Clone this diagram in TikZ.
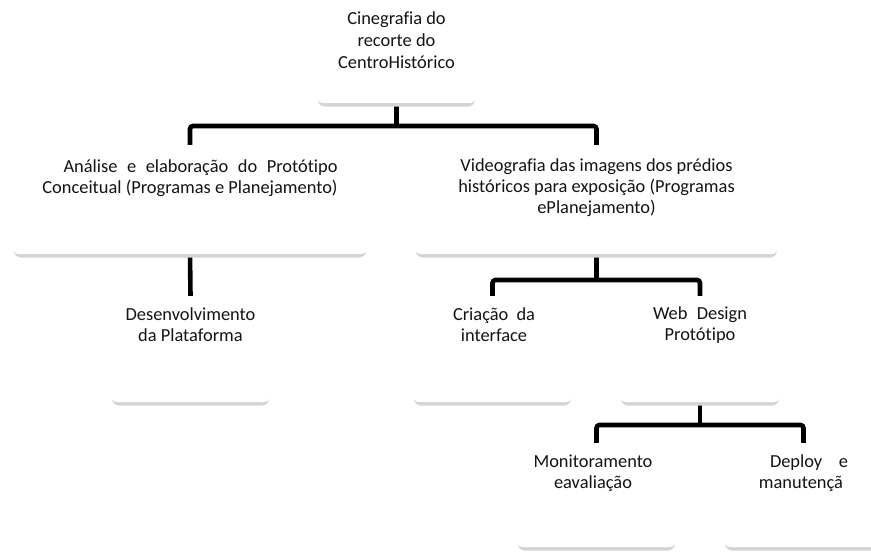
\documentclass[tikz,border=0pt]{standalone}
\usepackage{fontspec}
\setmainfont{Carlito}[RawFeature={-liga;-clig}]
\begin{document}
\begin{tikzpicture}[x=1pt,y=-1pt,
  box/.style={rectangle, rounded corners=6pt, fill=white, draw=none, inner sep=0pt},
  shadowbox/.style={rectangle, rounded corners=7pt, fill=black!17, draw=none, inner sep=0pt},
  conn/.style={line width=4.6pt, black},
  lbl/.style={font=\fontsize{18.4}{21}\selectfont, text=black!92, align=center, inner sep=0pt}]
\clip (0,0) rectangle (871,552);
\fill[white] (0,0) rectangle (871,552);
% connector joints
\coordinate (j1) at (396.5,126);
\coordinate (j2) at (596.5,280);
\coordinate (j3) at (700,425);
% box frames (positions)
\path (396.5,49) node[minimum width=159pt, minimum height=108pt, inner sep=0pt] (top) {};
\path (190,199.5) node[minimum width=354pt, minimum height=109pt, inner sep=0pt] (a) {};
\path (596.5,199.5) node[minimum width=363pt, minimum height=109pt, inner sep=0pt] (b) {};
\path (190.5,349) node[minimum width=159pt, minimum height=106pt, inner sep=0pt] (c) {};
\path (492.5,349) node[minimum width=159pt, minimum height=106pt, inner sep=0pt] (d) {};
\path (700,349) node[minimum width=160pt, minimum height=106pt, inner sep=0pt] (e) {};
\path (596.5,495) node[minimum width=159pt, minimum height=104pt, inner sep=0pt] (f) {};
\path (803.5,495) node[minimum width=159pt, minimum height=104pt, inner sep=0pt] (g) {};
% connectors
\draw[conn] (top.south) -- (j1);
\draw[conn, rounded corners=3pt] (a.north) |- (j1) -| (b.north);
\draw[conn] (a.south) -- (c.north);
\draw[conn] (b.south) -- (j2);
\draw[conn, rounded corners=3pt] (d.north) |- (j2) -| (e.north);
\draw[conn] (e.south) -- (j3);
\draw[conn, rounded corners=3pt] (f.north) |- (j3) -| (g.north);
% shadows
\node[shadowbox, minimum width=157pt, minimum height=108pt] (topsh) at ([yshift=-3.5pt]top) {};
\node[shadowbox, minimum width=352pt, minimum height=109pt] (ash) at ([yshift=-3.5pt]a) {};
\node[shadowbox, minimum width=361pt, minimum height=109pt] (bsh) at ([yshift=-3.5pt]b) {};
\node[shadowbox, minimum width=157pt, minimum height=106pt] (csh) at ([yshift=-3.5pt]c) {};
\node[shadowbox, minimum width=157pt, minimum height=106pt] (dsh) at ([yshift=-3.5pt]d) {};
\node[shadowbox, minimum width=158pt, minimum height=106pt] (esh) at ([yshift=-3.5pt]e) {};
\node[shadowbox, minimum width=157pt, minimum height=104pt] (fsh) at ([yshift=-3.5pt]f) {};
\node[shadowbox, minimum width=157pt, minimum height=104pt] (gsh) at ([yshift=-3.5pt]g) {};
% visible boxes
\node[box, minimum width=159pt, minimum height=108pt] (topbox) at (top) {};
\node[box, minimum width=354pt, minimum height=109pt] (abox) at (a) {};
\node[box, minimum width=363pt, minimum height=109pt] (bbox) at (b) {};
\node[box, minimum width=159pt, minimum height=106pt] (cbox) at (c) {};
\node[box, minimum width=159pt, minimum height=106pt] (dbox) at (d) {};
\node[box, minimum width=160pt, minimum height=106pt] (ebox) at (e) {};
\node[box, minimum width=159pt, minimum height=104pt] (fbox) at (f) {};
\node[box, minimum width=159pt, minimum height=104pt] (gbox) at (g) {};
% labels
\node[lbl, font=\fontsize{18.4}{22}\selectfont] (ttop) at (396.5,40) {Cinegrafia do\\recorte do\\CentroHistórico};
\node[lbl, align=right] (ta) at (190,178) {\makebox[274pt][s]{Análise e elaboração do Protótipo}\\Conceitual (Programas e Planejamento)};
\node[lbl] (tb) at (596.5,188) {Videografia das imagens dos prédios\\históricos para exposição (Programas\\ePlanejamento)};
\node[lbl] (tc) at (190.5,325) {Desenvolvimento\\da Plataforma};
\node[lbl] (td) at (494,325) {\makebox[82pt][s]{Criação da}\\interface};
\node[lbl] (te) at (700,325) {\makebox[94pt][s]{Web Design}\\Protótipo};
\node[lbl] (tf) at (593,473) {Monitoramento\\eavaliação};
\node[lbl] (tg) at (801,473) {\hspace*{16pt}\makebox[78pt][s]{Deploy e}\\manutençã};
\end{tikzpicture}
\end{document}
